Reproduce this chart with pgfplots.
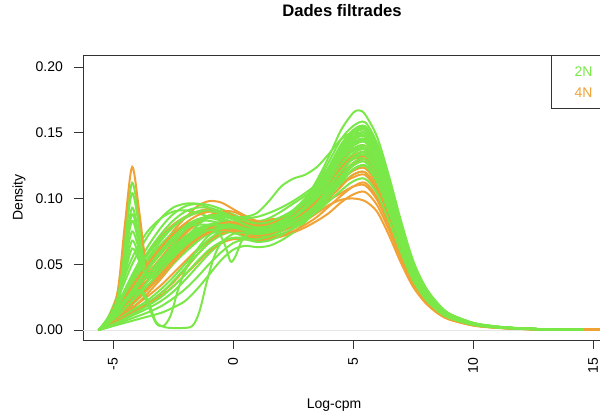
\documentclass[border=0pt]{standalone}
\usepackage{pgfplots}
\pgfplotsset{compat=1.18}
\usepackage{fontspec}
\setmainfont{Liberation Sans}
\definecolor{gN}{RGB}{122,232,72}
\definecolor{oN}{RGB}{240,162,52}
\begin{document}
\begin{tikzpicture}
\useasboundingbox (0,0) rectangle (450pt,310.5pt);
\clip (0,0) rectangle (450pt,310.5pt);
\begin{axis}[
  at={(62.25pt,55.5pt)}, anchor=south west,
  scale only axis, width=388.5pt, height=213.75pt,
  xmin=-6.25, xmax=15.333, ymin=-0.0076, ymax=0.2091,
  xtick={-5,0,5,10,15}, xticklabels={-5,0,5,10,15},
  ytick={0,0.05,0.1,0.15,0.2}, yticklabels={0.00,0.05,0.10,0.15,0.20},
  /pgf/number format/assume math mode=true,
  tick align=outside, tick pos=left, major tick length=6.75pt,
  tick style={black!80, line width=0.6pt},
  axis line style={black!80, line width=0.6pt},
  ticklabel style={font=\fontsize{10.5}{12}\selectfont},
  yticklabel style={anchor=east}, yticklabel shift=4.75pt,
  xticklabel style={rotate=90, anchor=east}, xticklabel shift=3.25pt,
  title={Dades filtrades},
  title style={at={(axis description cs:0.5,1.1053)}, anchor=base, font=\bfseries\fontsize{12.5}{15}\selectfont},
  xlabel={Log-cpm},
  xlabel style={at={(axis description cs:0.4846,-0.2386)}, anchor=base, font=\fontsize{10.5}{12}\selectfont},
  ylabel={Density},
  ylabel style={at={(axis description cs:-0.1236,0.5)}, anchor=center, font=\fontsize{10.5}{12}\selectfont},
  every axis plot/.append style={line width=1.5pt, smooth, no markers},
  legend cell align=left,
  legend style={at={(1,1)}, anchor=north east, draw=black!80, line width=0.6pt, fill=white,
    inner xsep=0pt, inner ysep=4.1pt, row sep=0pt,
    font=\fontsize{10.5}{12}\selectfont,
    nodes={inner sep=0pt, text height=7.5pt, text depth=0pt, minimum height=15.75pt}},
]
\addplot[forget plot, black!10, line width=0.6pt, sharp plot] coordinates {(-6.25,0)(15.333,0)};
% C8 top
\addplot[gN, forget plot] coordinates {(-5.6,0)(-5.2,0.006)(-4.8,0.013)(-4.2,0.025)(-3.6,0.037)(-3,0.048)(-2.5,0.057)(-2,0.065)(-1.5,0.071)(-1,0.075)(-0.5,0.077)(0,0.076)(0.5,0.074)(1,0.073)(1.5,0.075)(2,0.08)(2.5,0.088)(3,0.099)(3.5,0.114)(4,0.132)(4.5,0.152)(5,0.165)(5.25,0.167)(5.5,0.164)(6,0.147)(6.5,0.117)(7,0.083)(7.5,0.053)(8,0.033)(8.5,0.02)(9,0.0125)(10,0.0055)(11,0.0027)(12,0.0013)(13,0.0006)(14.6,0.0002)};
% N1
\addplot[gN, forget plot] coordinates {(-5.6,0)(-5.2,0.009)(-4.8,0.024)(-4.2,0.05)(-3.6,0.07)(-3,0.085)(-2.5,0.093)(-2,0.096)(-1.5,0.096)(-1,0.093)(-0.5,0.089)(0,0.085)(0.5,0.081)(1,0.079)(1.5,0.08)(2,0.084)(2.5,0.09)(3,0.097)(3.5,0.106)(4,0.117)(4.5,0.129)(5,0.138)(5.5,0.14)(6,0.126)(6.5,0.101)(7,0.071)(7.5,0.046)(8,0.029)(8.5,0.018)(9,0.011)(10,0.0048)(11,0.0022)(12,0.0011)(13,0.0006)(14.6,0.0002)};
% C19
\addplot[oN, forget plot] coordinates {(-5.6,0)(-5.2,0.006)(-4.8,0.014)(-4.2,0.03)(-3.6,0.046)(-3,0.062)(-2.5,0.075)(-2,0.085)(-1.5,0.094)(-1,0.098)(-0.5,0.097)(0,0.092)(0.5,0.087)(1,0.083)(1.5,0.084)(2,0.085)(2.5,0.087)(3,0.09)(3.5,0.094)(4,0.099)(4.5,0.104)(5,0.109)(5.5,0.11)(6,0.099)(6.5,0.079)(7,0.056)(7.5,0.036)(8,0.023)(8.5,0.014)(9,0.0088)(10,0.0037)(11,0.0018)(12,0.0009)(13,0.0004)(16,0.0002)};
% M1
\addplot[gN, forget plot] coordinates {(-5.6,0)(-5.2,0.005)(-4.8,0.013)(-4.2,0.027)(-3.6,0.044)(-3,0.06)(-2.5,0.071)(-2,0.079)(-1.5,0.084)(-1,0.086)(-0.5,0.085)(0,0.082)(0.5,0.078)(1,0.076)(1.5,0.077)(2,0.08)(2.5,0.085)(3,0.092)(3.5,0.101)(4,0.112)(4.5,0.124)(5,0.134)(5.5,0.137)(6,0.123)(6.5,0.099)(7,0.07)(7.5,0.045)(8,0.028)(8.5,0.018)(9,0.011)(10,0.0047)(11,0.0022)(12,0.0011)(13,0.0005)(14.6,0.0002)};
% N2
\addplot[gN, forget plot] coordinates {(-5.6,0)(-5.2,0.006)(-4.8,0.015)(-4.2,0.031)(-3.6,0.046)(-3,0.06)(-2.5,0.07)(-2,0.078)(-1.5,0.083)(-1,0.085)(-0.5,0.084)(0,0.082)(0.5,0.081)(1,0.082)(1.5,0.085)(2,0.09)(2.5,0.096)(3,0.102)(3.5,0.109)(4,0.117)(4.5,0.125)(5,0.13)(5.5,0.13)(6,0.117)(6.5,0.094)(7,0.066)(7.5,0.043)(8,0.027)(8.5,0.017)(9,0.0104)(10,0.0044)(11,0.0021)(12,0.001)(13,0.0005)(14.6,0.0002)};
% C2
\addplot[gN, forget plot] coordinates {(-5.6,0)(-5.2,0.008)(-4.8,0.028)(-4.5,0.074)(-4.2,0.112)(-3.9,0.082)(-3.6,0.046)(-3.3,0.043)(-3,0.048)(-2.5,0.056)(-2,0.064)(-1.5,0.071)(-1,0.076)(-0.5,0.078)(0,0.078)(0.5,0.075)(1,0.073)(1.5,0.074)(2,0.077)(2.5,0.082)(3,0.089)(3.5,0.098)(4,0.109)(4.5,0.121)(5,0.132)(5.5,0.135)(6,0.122)(6.5,0.097)(7,0.069)(7.5,0.045)(8,0.028)(8.5,0.018)(9,0.011)(10,0.0046)(11,0.0022)(12,0.0011)(13,0.0005)(14.6,0.0002)};
% N6
\addplot[oN, forget plot] coordinates {(-5.6,0)(-5.2,0.006)(-4.8,0.014)(-4.2,0.028)(-3.6,0.042)(-3,0.055)(-2.5,0.066)(-2,0.075)(-1.5,0.082)(-1,0.087)(-0.5,0.088)(0,0.087)(0.5,0.084)(1,0.082)(1.5,0.083)(2,0.085)(2.5,0.088)(3,0.092)(3.5,0.098)(4,0.104)(4.5,0.111)(5,0.116)(5.5,0.118)(6,0.106)(6.5,0.085)(7,0.06)(7.5,0.039)(8,0.025)(8.5,0.015)(9,0.0094)(10,0.004)(11,0.0019)(12,0.0009)(13,0.0005)(16,0.0002)};
% C13
\addplot[gN, forget plot] coordinates {(-5.6,0)(-5.2,0.008)(-4.8,0.02)(-4.2,0.042)(-3.6,0.062)(-3,0.078)(-2.5,0.088)(-2,0.094)(-1.5,0.096)(-1,0.095)(-0.5,0.092)(0,0.088)(0.5,0.084)(1,0.081)(1.5,0.082)(2,0.084)(2.5,0.087)(3,0.091)(3.5,0.097)(4,0.104)(4.5,0.111)(5,0.118)(5.5,0.12)(6,0.108)(6.5,0.086)(7,0.061)(7.5,0.04)(8,0.025)(8.5,0.016)(9,0.0096)(10,0.0041)(11,0.0019)(12,0.001)(13,0.0005)(14.6,0.0002)};
% M3
\addplot[gN, forget plot] coordinates {(-5.6,0)(-5.2,0.004)(-4.8,0.009)(-4.2,0.019)(-3.6,0.03)(-3,0.044)(-2.5,0.057)(-2,0.069)(-1.5,0.079)(-1,0.086)(-0.5,0.088)(0,0.086)(0.5,0.081)(1,0.077)(1.5,0.077)(2,0.08)(2.5,0.086)(3,0.094)(3.5,0.105)(4,0.118)(4.5,0.131)(5,0.141)(5.5,0.144)(6,0.13)(6.5,0.104)(7,0.073)(7.5,0.048)(8,0.03)(8.5,0.019)(9,0.0115)(10,0.0049)(11,0.0023)(12,0.0012)(13,0.0006)(14.6,0.0002)};
% N3
\addplot[gN, forget plot] coordinates {(-5.6,0)(-5.2,0.005)(-4.8,0.012)(-4.2,0.024)(-3.6,0.036)(-3,0.048)(-2.5,0.058)(-2,0.066)(-1.5,0.072)(-1,0.076)(-0.5,0.077)(0,0.075)(0.5,0.072)(1,0.07)(1.5,0.072)(2,0.077)(2.5,0.085)(3,0.095)(3.5,0.108)(4,0.124)(4.5,0.141)(5,0.152)(5.5,0.155)(6,0.14)(6.5,0.112)(7,0.079)(7.5,0.051)(8,0.033)(8.5,0.02)(9,0.0124)(10,0.0053)(11,0.0025)(12,0.0012)(13,0.0006)(14.6,0.0002)};
% C20
\addplot[oN, forget plot] coordinates {(-5.6,0)(-5.2,0.005)(-4.8,0.012)(-4.2,0.025)(-3.6,0.037)(-3,0.05)(-2.5,0.06)(-2,0.069)(-1.5,0.076)(-1,0.08)(-0.5,0.081)(0,0.079)(0.5,0.076)(1,0.074)(1.5,0.074)(2,0.076)(2.5,0.079)(3,0.083)(3.5,0.089)(4,0.095)(4.5,0.099)(5,0.1)(5.5,0.098)(6,0.09)(6.5,0.072)(7,0.051)(7.5,0.033)(8,0.021)(8.5,0.013)(9,0.008)(10,0.0034)(11,0.0016)(12,0.0008)(13,0.0004)(16,0.0002)};
% C3
\addplot[gN, forget plot] coordinates {(-5.6,0)(-5.2,0.008)(-4.8,0.027)(-4.5,0.069)(-4.2,0.104)(-3.9,0.077)(-3.6,0.045)(-3.3,0.042)(-3,0.049)(-2.5,0.058)(-2,0.066)(-1.5,0.073)(-1,0.078)(-0.5,0.08)(0,0.079)(0.5,0.077)(1,0.075)(1.5,0.076)(2,0.08)(2.5,0.085)(3,0.092)(3.5,0.101)(4,0.113)(4.5,0.126)(5,0.137)(5.5,0.14)(6,0.126)(6.5,0.101)(7,0.071)(7.5,0.046)(8,0.029)(8.5,0.018)(9,0.011)(10,0.0048)(11,0.0022)(12,0.0011)(13,0.0006)(14.6,0.0002)};
% M2
\addplot[oN, forget plot] coordinates {(-5.6,0)(-5.2,0.005)(-4.8,0.012)(-4.2,0.026)(-3.6,0.04)(-3,0.053)(-2.5,0.064)(-2,0.073)(-1.5,0.081)(-1,0.087)(-0.5,0.09)(0,0.09)(0.5,0.086)(1,0.082)(1.5,0.081)(2,0.082)(2.5,0.085)(3,0.09)(3.5,0.097)(4,0.105)(4.5,0.114)(5,0.121)(5.5,0.123)(6,0.111)(6.5,0.089)(7,0.063)(7.5,0.041)(8,0.026)(8.5,0.016)(9,0.0098)(10,0.0042)(11,0.002)(12,0.001)(13,0.0005)(16,0.0002)};
% N4
\addplot[gN, forget plot] coordinates {(-5.6,0)(-5.2,0.007)(-4.8,0.018)(-4.2,0.036)(-3.6,0.052)(-3,0.065)(-2.5,0.074)(-2,0.08)(-1.5,0.083)(-1,0.083)(-0.5,0.081)(0,0.078)(0.5,0.075)(1,0.074)(1.5,0.076)(2,0.081)(2.5,0.088)(3,0.097)(3.5,0.109)(4,0.123)(4.5,0.139)(5,0.149)(5.5,0.152)(6,0.137)(6.5,0.109)(7,0.078)(7.5,0.05)(8,0.032)(8.5,0.02)(9,0.012)(10,0.0052)(11,0.0024)(12,0.0012)(13,0.0006)(14.6,0.0002)};
% C14
\addplot[gN, forget plot] coordinates {(-5.6,0)(-5.2,0.007)(-4.8,0.017)(-4.2,0.035)(-3.6,0.053)(-3,0.068)(-2.5,0.078)(-2,0.085)(-1.5,0.089)(-1,0.09)(-0.5,0.089)(0,0.086)(0.5,0.082)(1,0.079)(1.5,0.08)(2,0.084)(2.5,0.09)(3,0.098)(3.5,0.109)(4,0.122)(4.5,0.137)(5,0.149)(5.5,0.153)(6,0.138)(6.5,0.11)(7,0.078)(7.5,0.05)(8,0.032)(8.5,0.02)(9,0.012)(10,0.0052)(11,0.0024)(12,0.0012)(13,0.0006)(14.6,0.0002)};
% C21
\addplot[oN, forget plot] coordinates {(-5.6,0)(-5.2,0.004)(-4.8,0.008)(-4.2,0.014)(-3.6,0.02)(-3,0.028)(-2.5,0.036)(-2,0.046)(-1.5,0.057)(-1,0.067)(-0.5,0.074)(0,0.076)(0.5,0.074)(1,0.072)(1.5,0.073)(2,0.076)(2.5,0.08)(3,0.086)(3.5,0.093)(4,0.103)(4.5,0.113)(5,0.122)(5.5,0.125)(6,0.113)(6.5,0.09)(7,0.064)(7.5,0.041)(8,0.026)(8.5,0.016)(9,0.01)(10,0.0043)(11,0.002)(12,0.001)(13,0.0005)(16,0.0002)};
% M4
\addplot[gN, forget plot] coordinates {(-5.6,0)(-5.2,0.006)(-4.8,0.016)(-4.2,0.034)(-3.6,0.05)(-3,0.064)(-2.5,0.073)(-2,0.078)(-1.5,0.08)(-1,0.08)(-0.5,0.079)(0,0.077)(0.5,0.076)(1,0.076)(1.5,0.079)(2,0.084)(2.5,0.091)(3,0.1)(3.5,0.111)(4,0.124)(4.5,0.137)(5,0.147)(5.5,0.15)(6,0.135)(6.5,0.108)(7,0.077)(7.5,0.05)(8,0.032)(8.5,0.02)(9,0.012)(10,0.0051)(11,0.0024)(12,0.0012)(13,0.0006)(14.6,0.0002)};
% N5
\addplot[gN, forget plot] coordinates {(-5.6,0)(-5.2,0.003)(-4.8,0.007)(-4.2,0.013)(-3.6,0.02)(-3,0.028)(-2.5,0.037)(-2,0.047)(-1.5,0.057)(-1,0.066)(-0.5,0.072)(0,0.075)(0.5,0.074)(1,0.072)(1.5,0.074)(2,0.078)(2.5,0.085)(3,0.094)(3.5,0.106)(4,0.12)(4.5,0.135)(5,0.145)(5.5,0.148)(6,0.133)(6.5,0.107)(7,0.075)(7.5,0.049)(8,0.031)(8.5,0.019)(9,0.012)(10,0.005)(11,0.0024)(12,0.0012)(13,0.0006)(14.6,0.0002)};
% C4
\addplot[gN, forget plot] coordinates {(-5.6,0)(-5.2,0.008)(-4.8,0.025)(-4.5,0.062)(-4.2,0.093)(-3.9,0.07)(-3.6,0.043)(-3.3,0.042)(-3,0.047)(-2.5,0.054)(-2,0.061)(-1.5,0.068)(-1,0.074)(-0.5,0.077)(0,0.077)(0.5,0.074)(1,0.071)(1.5,0.072)(2,0.075)(2.5,0.08)(3,0.086)(3.5,0.094)(4,0.104)(4.5,0.115)(5,0.125)(5.5,0.128)(6,0.115)(6.5,0.092)(7,0.065)(7.5,0.042)(8,0.027)(8.5,0.017)(9,0.01)(10,0.0044)(11,0.002)(12,0.001)(13,0.0005)(14.6,0.0002)};
% C15
\addplot[gN, forget plot] coordinates {(-5.6,0)(-5.2,0.005)(-4.8,0.011)(-4.2,0.022)(-3.6,0.033)(-3,0.045)(-2.5,0.055)(-2,0.064)(-1.5,0.072)(-1,0.078)(-0.5,0.082)(0,0.082)(0.5,0.079)(1,0.076)(1.5,0.077)(2,0.081)(2.5,0.087)(3,0.095)(3.5,0.106)(4,0.119)(4.5,0.134)(5,0.146)(5.5,0.15)(6,0.135)(6.5,0.108)(7,0.077)(7.5,0.05)(8,0.032)(8.5,0.02)(9,0.012)(10,0.0051)(11,0.0024)(12,0.0012)(13,0.0006)(14.6,0.0002)};
% N9
\addplot[oN, forget plot] coordinates {(-5.6,0)(-5.2,0.004)(-4.8,0.009)(-4.2,0.017)(-3.6,0.025)(-3,0.034)(-2.5,0.043)(-2,0.052)(-1.5,0.061)(-1,0.068)(-0.5,0.073)(0,0.075)(0.5,0.074)(1,0.072)(1.5,0.073)(2,0.076)(2.5,0.081)(3,0.088)(3.5,0.096)(4,0.106)(4.5,0.117)(5,0.126)(5.5,0.13)(6,0.117)(6.5,0.094)(7,0.066)(7.5,0.043)(8,0.027)(8.5,0.017)(9,0.0104)(10,0.0044)(11,0.0021)(12,0.001)(13,0.0005)(16,0.0002)};
% N7
\addplot[gN, forget plot] coordinates {(-5.6,0)(-5.2,0.006)(-4.8,0.015)(-4.2,0.032)(-3.6,0.048)(-3,0.062)(-2.5,0.072)(-2,0.079)(-1.5,0.084)(-1,0.086)(-0.5,0.086)(0,0.085)(0.5,0.085)(1,0.086)(1.5,0.089)(2,0.093)(2.5,0.098)(3,0.104)(3.5,0.111)(4,0.12)(4.5,0.129)(5,0.136)(5.5,0.138)(6,0.124)(6.5,0.099)(7,0.07)(7.5,0.046)(8,0.029)(8.5,0.018)(9,0.011)(10,0.0047)(11,0.0022)(12,0.0011)(13,0.0005)(14.6,0.0002)};
% C22
\addplot[oN, forget plot] coordinates {(-5.6,0)(-5.2,0.007)(-4.8,0.018)(-4.2,0.038)(-3.6,0.057)(-3,0.071)(-2.5,0.08)(-2,0.086)(-1.5,0.09)(-1,0.092)(-0.5,0.09)(0,0.086)(0.5,0.082)(1,0.079)(1.5,0.08)(2,0.083)(2.5,0.088)(3,0.095)(3.5,0.103)(4,0.114)(4.5,0.127)(5,0.137)(5.5,0.14)(6,0.126)(6.5,0.101)(7,0.071)(7.5,0.046)(8,0.029)(8.5,0.018)(9,0.011)(10,0.0048)(11,0.0022)(12,0.0011)(13,0.0006)(16,0.0002)};
% C5
\addplot[gN, forget plot] coordinates {(-5.6,0)(-5.2,0.008)(-4.8,0.024)(-4.5,0.056)(-4.2,0.083)(-3.9,0.064)(-3.6,0.042)(-3.3,0.043)(-3,0.05)(-2.5,0.06)(-2,0.068)(-1.5,0.075)(-1,0.08)(-0.5,0.082)(0,0.081)(0.5,0.078)(1,0.076)(1.5,0.077)(2,0.081)(2.5,0.086)(3,0.094)(3.5,0.104)(4,0.116)(4.5,0.13)(5,0.142)(5.5,0.145)(6,0.131)(6.5,0.104)(7,0.074)(7.5,0.048)(8,0.03)(8.5,0.019)(9,0.012)(10,0.0049)(11,0.0023)(12,0.0012)(13,0.0006)(14.6,0.0002)};
% N8
\addplot[gN, forget plot] coordinates {(-5.6,0)(-5.2,0.01)(-4.8,0.027)(-4.2,0.055)(-3.6,0.074)(-3,0.085)(-2.5,0.09)(-2,0.091)(-1.5,0.089)(-1,0.086)(-0.5,0.083)(0,0.08)(0.5,0.078)(1,0.077)(1.5,0.079)(2,0.083)(2.5,0.089)(3,0.097)(3.5,0.107)(4,0.119)(4.5,0.131)(5,0.14)(5.5,0.143)(6,0.129)(6.5,0.103)(7,0.073)(7.5,0.047)(8,0.03)(8.5,0.019)(9,0.0114)(10,0.0049)(11,0.0023)(12,0.0011)(13,0.0006)(14.6,0.0002)};
% M5
\addplot[oN, forget plot] coordinates {(-5.6,0)(-5.2,0.003)(-4.8,0.008)(-4.2,0.016)(-3.6,0.027)(-3,0.039)(-2.5,0.05)(-2,0.06)(-1.5,0.069)(-1,0.076)(-0.5,0.08)(0,0.081)(0.5,0.079)(1,0.077)(1.5,0.078)(2,0.081)(2.5,0.086)(3,0.093)(3.5,0.102)(4,0.112)(4.5,0.122)(5,0.13)(5.5,0.132)(6,0.119)(6.5,0.095)(7,0.067)(7.5,0.044)(8,0.028)(8.5,0.017)(9,0.0106)(10,0.0045)(11,0.0021)(12,0.0011)(13,0.0005)(16,0.0002)};
% C16
\addplot[gN, forget plot] coordinates {(-5.6,0)(-5.2,0.004)(-4.8,0.008)(-4.2,0.015)(-3.6,0.022)(-3,0.031)(-2.5,0.04)(-2,0.05)(-1.5,0.06)(-1,0.069)(-0.5,0.075)(0,0.077)(0.5,0.075)(1,0.072)(1.5,0.073)(2,0.077)(2.5,0.082)(3,0.09)(3.5,0.099)(4,0.111)(4.5,0.125)(5,0.137)(5.5,0.14)(6,0.126)(6.5,0.101)(7,0.071)(7.5,0.046)(8,0.029)(8.5,0.018)(9,0.011)(10,0.0048)(11,0.0022)(12,0.0011)(13,0.0006)(14.6,0.0002)};
% C1 orange spike
\addplot[oN, forget plot] coordinates {(-5.6,0)(-5.2,0.008)(-4.8,0.03)(-4.5,0.081)(-4.2,0.124)(-3.9,0.089)(-3.6,0.047)(-3.3,0.041)(-3,0.046)(-2.5,0.055)(-2,0.064)(-1.5,0.071)(-1,0.076)(-0.5,0.078)(0,0.077)(0.5,0.074)(1,0.072)(1.5,0.073)(2,0.075)(2.5,0.079)(3,0.084)(3.5,0.091)(4,0.1)(4.5,0.109)(5,0.118)(5.5,0.12)(6,0.108)(6.5,0.086)(7,0.061)(7.5,0.04)(8,0.025)(8.5,0.016)(9,0.0096)(10,0.0041)(11,0.0019)(12,0.001)(13,0.0005)(16,0.0002)};
% N10
\addplot[gN, forget plot] coordinates {(-5.6,0)(-5.2,0.004)(-4.8,0.01)(-4.2,0.02)(-3.6,0.03)(-3,0.041)(-2.5,0.05)(-2,0.059)(-1.5,0.067)(-1,0.074)(-0.5,0.078)(0,0.079)(0.5,0.077)(1,0.075)(1.5,0.076)(2,0.079)(2.5,0.083)(3,0.089)(3.5,0.097)(4,0.106)(4.5,0.116)(5,0.125)(5.5,0.128)(6,0.115)(6.5,0.092)(7,0.065)(7.5,0.042)(8,0.027)(8.5,0.017)(9,0.01)(10,0.0044)(11,0.002)(12,0.001)(13,0.0005)(14.6,0.0002)};
% C6
\addplot[gN, forget plot] coordinates {(-5.6,0)(-5.2,0.008)(-4.8,0.023)(-4.5,0.052)(-4.2,0.075)(-3.9,0.06)(-3.6,0.041)(-3.3,0.04)(-3,0.045)(-2.5,0.053)(-2,0.061)(-1.5,0.068)(-1,0.073)(-0.5,0.075)(0,0.074)(0.5,0.071)(1,0.069)(1.5,0.07)(2,0.073)(2.5,0.077)(3,0.084)(3.5,0.091)(4,0.101)(4.5,0.113)(5,0.122)(5.5,0.125)(6,0.113)(6.5,0.09)(7,0.064)(7.5,0.041)(8,0.026)(8.5,0.016)(9,0.01)(10,0.0043)(11,0.002)(12,0.001)(13,0.0005)(14.6,0.0002)};
% N14
\addplot[oN, forget plot] coordinates {(-5.6,0)(-5.2,0.006)(-4.8,0.016)(-4.2,0.033)(-3.6,0.049)(-3,0.063)(-2.5,0.073)(-2,0.081)(-1.5,0.087)(-1,0.09)(-0.5,0.09)(0,0.087)(0.5,0.083)(1,0.08)(1.5,0.081)(2,0.084)(2.5,0.088)(3,0.094)(3.5,0.102)(4,0.112)(4.5,0.123)(5,0.132)(5.5,0.135)(6,0.122)(6.5,0.097)(7,0.069)(7.5,0.045)(8,0.028)(8.5,0.018)(9,0.011)(10,0.0046)(11,0.0022)(12,0.0011)(13,0.0005)(16,0.0002)};
% C17
\addplot[gN, forget plot] coordinates {(-5.6,0)(-5.2,0.003)(-4.8,0.006)(-4.2,0.011)(-3.6,0.016)(-3,0.022)(-2.5,0.029)(-2,0.038)(-1.5,0.048)(-1,0.058)(-0.5,0.066)(0,0.07)(0.5,0.07)(1,0.068)(1.5,0.069)(2,0.072)(2.5,0.077)(3,0.083)(3.5,0.091)(4,0.101)(4.5,0.112)(5,0.122)(5.5,0.125)(6,0.113)(6.5,0.09)(7,0.064)(7.5,0.041)(8,0.026)(8.5,0.016)(9,0.01)(10,0.0043)(11,0.002)(12,0.001)(13,0.0005)(14.6,0.0002)};
% N11
\addplot[gN, forget plot] coordinates {(-5.6,0)(-5.2,0.008)(-4.8,0.021)(-4.5,0.043)(-4.2,0.062)(-3.9,0.052)(-3.6,0.041)(-3.3,0.044)(-3,0.051)(-2.5,0.06)(-2,0.068)(-1.5,0.074)(-1,0.078)(-0.5,0.079)(0,0.078)(0.5,0.076)(1,0.075)(1.5,0.076)(2,0.08)(2.5,0.086)(3,0.094)(3.5,0.104)(4,0.117)(4.5,0.13)(5,0.14)(5.5,0.143)(6,0.129)(6.5,0.103)(7,0.073)(7.5,0.047)(8,0.03)(8.5,0.019)(9,0.0114)(10,0.0049)(11,0.0023)(12,0.0011)(13,0.0006)(14.6,0.0002)};
% C23
\addplot[oN, forget plot] coordinates {(-5.6,0)(-5.2,0.003)(-4.8,0.007)(-4.2,0.013)(-3.6,0.019)(-3,0.026)(-2.5,0.033)(-2,0.042)(-1.5,0.051)(-1,0.06)(-0.5,0.066)(0,0.069)(0.5,0.069)(1,0.068)(1.5,0.069)(2,0.071)(2.5,0.074)(3,0.078)(3.5,0.083)(4,0.089)(4.5,0.097)(5,0.103)(5.5,0.105)(6,0.095)(6.5,0.076)(7,0.054)(7.5,0.035)(8,0.022)(8.5,0.014)(9,0.0084)(10,0.0036)(11,0.0017)(12,0.0008)(13,0.0004)(16,0.0002)};
% M6
\addplot[gN, forget plot] coordinates {(-5.6,0)(-5.2,0.004)(-4.8,0.01)(-4.2,0.022)(-3.6,0.036)(-3,0.052)(-2.5,0.065)(-2,0.076)(-1.5,0.083)(-1,0.087)(-0.5,0.087)(0,0.084)(0.5,0.08)(1,0.078)(1.5,0.079)(2,0.083)(2.5,0.089)(3,0.098)(3.5,0.11)(4,0.124)(4.5,0.14)(5,0.151)(5.5,0.154)(6,0.139)(6.5,0.111)(7,0.079)(7.5,0.051)(8,0.032)(8.5,0.02)(9,0.0123)(10,0.0052)(11,0.0025)(12,0.0012)(13,0.0006)(14.6,0.0002)};
% C7
\addplot[gN, forget plot] coordinates {(-5.6,0)(-5.2,0.008)(-4.8,0.022)(-4.5,0.047)(-4.2,0.068)(-3.9,0.055)(-3.6,0.04)(-3.3,0.042)(-3,0.048)(-2.5,0.057)(-2,0.065)(-1.5,0.072)(-1,0.077)(-0.5,0.079)(0,0.078)(0.5,0.076)(1,0.074)(1.5,0.076)(2,0.079)(2.5,0.085)(3,0.094)(3.5,0.104)(4,0.118)(4.5,0.133)(5,0.146)(5.5,0.15)(6,0.135)(6.5,0.108)(7,0.077)(7.5,0.05)(8,0.032)(8.5,0.02)(9,0.012)(10,0.0051)(11,0.0024)(12,0.0012)(13,0.0006)(14.6,0.0002)};
% N12
\addplot[gN, forget plot] coordinates {(-5.6,0)(-5.2,0.008)(-4.8,0.025)(-4.5,0.059)(-4.2,0.088)(-3.9,0.068)(-3.6,0.044)(-3.3,0.043)(-3,0.05)(-2.5,0.059)(-2,0.067)(-1.5,0.074)(-1,0.079)(-0.5,0.081)(0,0.08)(0.5,0.078)(1,0.076)(1.5,0.077)(2,0.08)(2.5,0.085)(3,0.091)(3.5,0.1)(4,0.11)(4.5,0.121)(5,0.13)(5.5,0.133)(6,0.12)(6.5,0.096)(7,0.068)(7.5,0.044)(8,0.028)(8.5,0.017)(9,0.0106)(10,0.0045)(11,0.0021)(12,0.0011)(13,0.0005)(14.6,0.0002)};
% C18
\addplot[gN, forget plot] coordinates {(-5.6,0)(-5.2,0.002)(-4.8,0.004)(-4.2,0.007)(-3.6,0.01)(-3,0.013)(-2.5,0.017)(-2,0.022)(-1.5,0.031)(-1,0.042)(-0.5,0.053)(0,0.061)(0.5,0.064)(1,0.063)(1.5,0.064)(2,0.068)(2.5,0.074)(3,0.082)(3.5,0.092)(4,0.105)(4.5,0.119)(5,0.131)(5.5,0.135)(6,0.122)(6.5,0.097)(7,0.069)(7.5,0.045)(8,0.028)(8.5,0.018)(9,0.011)(10,0.0046)(11,0.0022)(12,0.0011)(13,0.0005)(14.6,0.0002)};
% N16
\addplot[oN, forget plot] coordinates {(-5.6,0)(-5.2,0.004)(-4.8,0.01)(-4.2,0.021)(-3.6,0.032)(-3,0.043)(-2.5,0.053)(-2,0.062)(-1.5,0.069)(-1,0.074)(-0.5,0.076)(0,0.075)(0.5,0.072)(1,0.07)(1.5,0.07)(2,0.072)(2.5,0.075)(3,0.08)(3.5,0.086)(4,0.094)(4.5,0.102)(5,0.109)(5.5,0.112)(6,0.101)(6.5,0.081)(7,0.057)(7.5,0.037)(8,0.024)(8.5,0.015)(9,0.009)(10,0.0038)(11,0.0018)(12,0.0009)(13,0.0004)(16,0.0002)};
% N13
\addplot[gN, forget plot] coordinates {(-5.6,0)(-5.2,0.002)(-4.8,0.005)(-4.2,0.009)(-3.6,0.013)(-3,0.018)(-2.5,0.024)(-2,0.031)(-1.5,0.04)(-1,0.05)(-0.5,0.059)(0,0.066)(0.5,0.069)(1,0.069)(1.5,0.071)(2,0.075)(2.5,0.082)(3,0.091)(3.5,0.103)(4,0.117)(4.5,0.132)(5,0.142)(5.5,0.145)(6,0.131)(6.5,0.104)(7,0.074)(7.5,0.048)(8,0.03)(8.5,0.019)(9,0.012)(10,0.0049)(11,0.0023)(12,0.0012)(13,0.0006)(14.6,0.0002)};
% C26
\addplot[oN, forget plot] coordinates {(-5.6,0)(-5.2,0.005)(-4.8,0.01)(-4.2,0.02)(-3.6,0.03)(-3,0.041)(-2.5,0.051)(-2,0.061)(-1.5,0.07)(-1,0.077)(-0.5,0.081)(0,0.082)(0.5,0.079)(1,0.076)(1.5,0.077)(2,0.08)(2.5,0.084)(3,0.09)(3.5,0.098)(4,0.107)(4.5,0.118)(5,0.127)(5.5,0.13)(6,0.117)(6.5,0.094)(7,0.066)(7.5,0.043)(8,0.027)(8.5,0.017)(9,0.0104)(10,0.0044)(11,0.0021)(12,0.001)(13,0.0005)(16,0.0002)};
% N15
\addplot[gN, forget plot] coordinates {(-5.6,0)(-5.2,0.006)(-4.8,0.014)(-4.2,0.028)(-3.6,0.041)(-3,0.053)(-2.5,0.062)(-2,0.07)(-1.5,0.076)(-1,0.079)(-0.5,0.08)(0,0.078)(0.5,0.076)(1,0.075)(1.5,0.077)(2,0.082)(2.5,0.089)(3,0.099)(3.5,0.112)(4,0.128)(4.5,0.145)(5,0.155)(5.5,0.158)(6,0.142)(6.5,0.114)(7,0.081)(7.5,0.052)(8,0.033)(8.5,0.021)(9,0.0126)(10,0.0054)(11,0.0025)(12,0.0013)(13,0.0006)(14.6,0.0002)};
% C9 shoulder
\addplot[gN, forget plot] coordinates {(-5.6,0)(-5.2,0.007)(-4.8,0.016)(-4.2,0.03)(-3.6,0.045)(-3,0.058)(-2.5,0.068)(-2,0.076)(-1.5,0.082)(-1,0.086)(-0.5,0.087)(0,0.086)(0.5,0.086)(1,0.089)(1.5,0.098)(2,0.109)(2.5,0.115)(3,0.118)(3.5,0.124)(4,0.134)(4.5,0.145)(5,0.15)(5.5,0.147)(6,0.133)(6.5,0.106)(7,0.076)(7.5,0.049)(8,0.031)(8.5,0.019)(9,0.012)(10,0.005)(11,0.0025)(12,0.0012)(13,0.0006)(14.6,0.0002)};
% C24
\addplot[gN, forget plot] coordinates {(-5.6,0)(-5.2,0.005)(-4.8,0.013)(-4.2,0.028)(-3.6,0.041)(-3,0.054)(-2.5,0.063)(-2,0.071)(-1.5,0.077)(-1,0.08)(-0.5,0.08)(0,0.079)(0.5,0.076)(1,0.074)(1.5,0.075)(2,0.077)(2.5,0.08)(3,0.085)(3.5,0.09)(4,0.098)(4.5,0.106)(5,0.113)(5.5,0.115)(6,0.104)(6.5,0.083)(7,0.059)(7.5,0.038)(8,0.024)(8.5,0.015)(9,0.0092)(10,0.0039)(11,0.0018)(12,0.0009)(13,0.0004)(14.6,0.0002)};
% N17
\addplot[gN, forget plot] coordinates {(-5.6,0)(-5.2,0.007)(-4.8,0.018)(-4.2,0.038)(-3.6,0.056)(-3,0.07)(-2.5,0.079)(-2,0.086)(-1.5,0.09)(-1,0.091)(-0.5,0.089)(0,0.085)(0.5,0.08)(1,0.077)(1.5,0.077)(2,0.079)(2.5,0.083)(3,0.088)(3.5,0.095)(4,0.104)(4.5,0.114)(5,0.122)(5.5,0.125)(6,0.113)(6.5,0.09)(7,0.064)(7.5,0.041)(8,0.026)(8.5,0.016)(9,0.01)(10,0.0043)(11,0.002)(12,0.001)(13,0.0005)(14.6,0.0002)};
% C10 loop
\addplot[gN, forget plot] coordinates {(-5.6,0)(-5.2,0.007)(-4.8,0.016)(-4.2,0.028)(-3.8,0.03)(-3.5,0.02)(-3.2,0.006)(-2.8,0.002)(-2.2,0.0015)(-1.7,0.003)(-1.4,0.014)(-1.1,0.036)(-0.8,0.055)(-0.5,0.066)(0,0.073)(0.5,0.074)(1,0.073)(1.5,0.074)(2,0.077)(2.5,0.082)(3,0.088)(3.5,0.096)(4,0.106)(4.5,0.117)(5,0.127)(5.5,0.13)(6,0.117)(6.5,0.094)(7,0.066)(7.5,0.043)(8,0.027)(8.5,0.017)(9,0.0104)(10,0.0044)(11,0.0021)(12,0.001)(13,0.0005)(14.6,0.0002)};
% C25
\addplot[gN, forget plot] coordinates {(-5.6,0)(-5.2,0.008)(-4.8,0.02)(-4.2,0.04)(-3.6,0.058)(-3,0.073)(-2.5,0.083)(-2,0.09)(-1.5,0.093)(-1,0.093)(-0.5,0.09)(0,0.086)(0.5,0.083)(1,0.081)(1.5,0.082)(2,0.086)(2.5,0.091)(3,0.098)(3.5,0.107)(4,0.119)(4.5,0.132)(5,0.144)(5.5,0.147)(6,0.132)(6.5,0.106)(7,0.075)(7.5,0.049)(8,0.031)(8.5,0.019)(9,0.012)(10,0.005)(11,0.0023)(12,0.0012)(13,0.0006)(14.6,0.0002)};
% N18
\addplot[gN, forget plot] coordinates {(-5.6,0)(-5.2,0.003)(-4.8,0.006)(-4.2,0.012)(-3.6,0.018)(-3,0.025)(-2.5,0.033)(-2,0.042)(-1.5,0.052)(-1,0.061)(-0.5,0.067)(0,0.07)(0.5,0.069)(1,0.067)(1.5,0.068)(2,0.072)(2.5,0.078)(3,0.086)(3.5,0.096)(4,0.108)(4.5,0.121)(5,0.131)(5.5,0.135)(6,0.122)(6.5,0.097)(7,0.069)(7.5,0.045)(8,0.028)(8.5,0.018)(9,0.011)(10,0.0046)(11,0.0022)(12,0.0011)(13,0.0005)(14.6,0.0002)};
% C11 loop
\addplot[gN, forget plot] coordinates {(-5.6,0)(-5.2,0.006)(-4.8,0.014)(-4.2,0.026)(-3.8,0.028)(-3.5,0.017)(-3.2,0.005)(-2.9,0.003)(-2.6,0.011)(-2.3,0.03)(-2,0.045)(-1.5,0.061)(-1,0.072)(-0.5,0.077)(0,0.078)(0.5,0.077)(1,0.076)(1.5,0.077)(2,0.081)(2.5,0.086)(3,0.094)(3.5,0.104)(4,0.116)(4.5,0.13)(5,0.142)(5.5,0.145)(6,0.131)(6.5,0.104)(7,0.074)(7.5,0.048)(8,0.03)(8.5,0.019)(9,0.012)(10,0.0049)(11,0.0023)(12,0.0012)(13,0.0006)(14.6,0.0002)};
% C12 dip
\addplot[gN, forget plot] coordinates {(-5.6,0)(-5.2,0.005)(-4.8,0.011)(-4.2,0.022)(-3.6,0.033)(-3,0.045)(-2.5,0.055)(-2,0.064)(-1.5,0.071)(-1,0.076)(-0.6,0.074)(-0.3,0.063)(-0.1,0.052)(0.1,0.056)(0.4,0.069)(0.8,0.075)(1.2,0.076)(1.5,0.076)(2,0.08)(2.5,0.085)(3,0.092)(3.5,0.101)(4,0.113)(4.5,0.126)(5,0.137)(5.5,0.14)(6,0.126)(6.5,0.101)(7,0.071)(7.5,0.046)(8,0.029)(8.5,0.018)(9,0.011)(10,0.0048)(11,0.0022)(12,0.0011)(13,0.0006)(14.6,0.0002)};
\addlegendimage{gN, legend image code/.code={\path[draw=none, fill=none] (0pt,0pt) -- (17.25pt,0pt);}}
\addlegendentry{\textcolor{gN}{2N}\hspace*{6pt}}
\addlegendimage{oN, legend image code/.code={\path[draw=none, fill=none] (0pt,0pt) -- (17.25pt,0pt);}}
\addlegendentry{\textcolor{oN}{4N}\hspace*{6pt}}
\end{axis}
\end{tikzpicture}
\end{document}
